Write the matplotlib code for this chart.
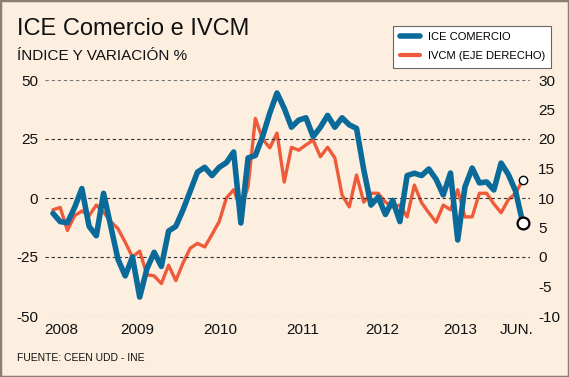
"""ICE Comercio e IVCM: line chart with two y axes."""
import matplotlib

matplotlib.use("Agg")
import matplotlib.pyplot as plt  # noqa: E402
from matplotlib.lines import Line2D  # noqa: E402
from matplotlib.patches import Rectangle  # noqa: E402

plt.rcParams["font.family"] = ["Liberation Sans", "DejaVu Sans"]

# monthly values, Jan 2008 .. Jun 2013
months = list(range(66))
ice = [-6.5, -10, -10.5, -4, 4, -12, -16, 2, -12, -26,
       -33, -25, -42, -30, -23, -29, -14, -12, -5, 3,
       11, 13, 9.5, 13, 15, 19.5, -10.6, 17, 18, 26,
       36, 44.5, 38, 30, 33, 34, 26, 30, 35, 30,
       34, 31, 29.5, 12, -3, 0.4, -7, -1, -10, 9.5,
       10.5, 9.5, 12.3, 8, 1.3, 10.6, -17.8, 4.7, 12.7, 6.4,
       6.8, 3.4, 14.8, 10, 3, -10.6]
ivcm = [8, 8.4, 4.5, 7, 7.8, 7, 8.8, 7.6, 6, 4.8,
        2.5, 0, 1, -3, -3.2, -4.5, -1.4, -4, -1, 1.5,
        2.3, 1.7, 3.8, 6, 10, 11.4, 8, 12, 23.5, 20,
        18.5, 21, 12.7, 18.6, 18.1, 19, 19.8, 17, 18.6, 16.8,
        10.5, 8.5, 13.9, 9.3, 10.8, 10.8, 9.3, 8.5, 8.8, 6.8,
        12.2, 9.2, 7.5, 5.9, 8.8, 8, 11.4, 6.8, 6.8, 10.8,
        10.8, 9, 7.5, 9.7, 10.8, 13]

x_labels = ["2008", "2009", "2010", "2011", "2012", "2013", "JUN."]
x_label_pos = [1.2, 11.6, 23.1, 34.6, 45.5, 56.4, 64.1]
left_ticks = [-50, -25, 0, 25, 50]
right_ticks = [-10, -5, 0, 5, 10, 15, 20, 25, 30]

BG = "#fcefdf"
BLUE = "#0a6a9a"
RED = "#ef5a3a"

fig = plt.figure(figsize=(5.69, 3.77), dpi=100, facecolor=BG)
ax = fig.add_axes([45 / 569, 1 - 316 / 377, 485 / 569, 236 / 377])
ax2 = ax.twinx()
for a in (ax, ax2):
    a.set_facecolor("none")
    for s in a.spines.values():
        s.set_visible(False)
ax.set_zorder(ax2.get_zorder() + 1)

ax.set_xlim(-1.1, 66)
ax.set_ylim(-50, 50)
ax2.set_ylim(-10, 30)

for v in left_ticks:
    ax.axhline(v, color="#333333" if -50 < v < 50 else "#777777",
               lw=0.8, ls=(0, (3, 2.5)), zorder=0)

ax2.plot(months, ivcm, color=RED, lw=2.4, solid_joinstyle="round",
         solid_capstyle="round")
ax2.plot(months[-1], ivcm[-1], "o", ms=6, mfc="white", mec="black",
         mew=1.0, zorder=5)
ax.plot(months, ice, color=BLUE, lw=4.0, solid_joinstyle="round",
        solid_capstyle="round")
ax.plot(months[-1], ice[-1], "o", ms=8.5, mfc="white", mec="black",
        mew=1.6, zorder=5)

ax.set_yticks(left_ticks)
ax.set_yticklabels([str(v) for v in left_ticks])
ax2.set_yticks(right_ticks)
ax2.set_yticklabels([str(v) for v in right_ticks])
ax.set_xticks(x_label_pos)
ax.set_xticklabels(x_labels)
ax.tick_params(axis="y", length=0, pad=5, labelsize=11, colors="#111111")
ax.tick_params(axis="x", length=0, pad=5, labelsize=11, colors="#111111")
ax2.tick_params(axis="y", length=0, pad=6, labelsize=11, colors="#111111")

handles = [Line2D([], [], color=BLUE, lw=4, solid_capstyle="round"),
           Line2D([], [], color=RED, lw=3, solid_capstyle="round")]
leg = fig.legend(handles, ["ICE COMERCIO", "IVCM (EJE DERECHO)"],
                 loc="upper right", bbox_to_anchor=(557 / 569, 1 - 20 / 377),
                 fontsize=8, frameon=True, fancybox=False, framealpha=1,
                 edgecolor="#666666", facecolor="white", handlelength=1.8,
                 handletextpad=0.7, labelspacing=0.8, borderpad=0.6)
leg.get_frame().set_linewidth(0.8)

fig.text(17 / 569, 1 - 35 / 377, "ICE Comercio e IVCM", fontsize=17,
         va="baseline", color="#111111")
fig.text(17 / 569, 1 - 60 / 377, "ÍNDICE Y VARIACIÓN %", fontsize=11,
         va="baseline", color="#111111")
fig.text(17 / 569, 1 - 361 / 377, "FUENTE: CEEN UDD - INE", fontsize=7.5,
         va="baseline", color="#111111")

fig.add_artist(Rectangle((0, 0), 1, 1, transform=fig.transFigure, fill=False,
                         edgecolor="#8e7e72", lw=2.5))

fig.savefig("out.png", dpi=100, facecolor=BG)
